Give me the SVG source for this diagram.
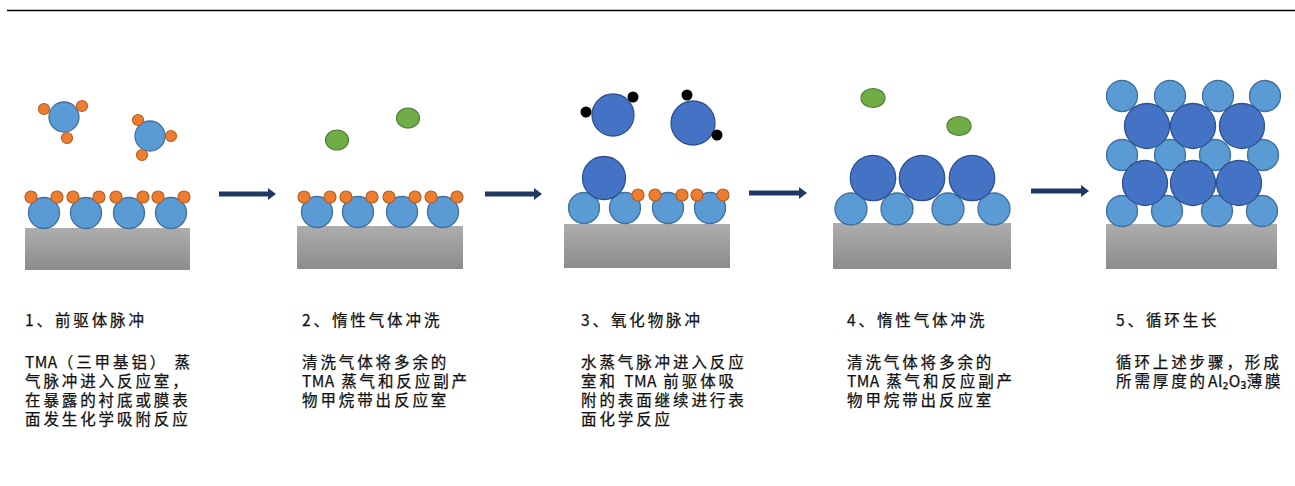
<svg xmlns="http://www.w3.org/2000/svg" width="1295" height="486" viewBox="0 0 1295 486">
  <style>
    .lb { fill: #5B9BD5; stroke: #41719C; stroke-width: 1.3; }
    .db { fill: #4472C4; stroke: #2F528F; stroke-width: 1.3; }
    .or { fill: #ED7D31; stroke: #B95F22; stroke-width: 1.2; }
    .gr { fill: #70AD47; stroke: #507E32; stroke-width: 1.2; }
    .bk { fill: #000000; }
    .sub { fill: url(#subGrad); }
    .arrow { fill: #1F3864; }
    .t { font-family: "Noto Sans CJK SC", "Noto Sans", sans-serif; font-size: 15.5px; letter-spacing: 2.9px; fill: #111111; stroke: #111111; stroke-width: 0.25; }
    .lat { letter-spacing: 0.5px; }
  </style>
  <defs>
    <linearGradient id="subGrad" x1="0" y1="0" x2="0" y2="1">
      <stop offset="0" stop-color="#ADADAD"/>
      <stop offset="1" stop-color="#8C8C8C"/>
    </linearGradient>
  </defs>

  <rect width="1295" height="486" fill="#FFFFFF"/>
  <!-- header rule -->
  <line x1="7" y1="10.5" x2="1295" y2="10.5" stroke="#000000" stroke-width="1.3"/>

  <!-- step 1: precursor pulse -->
  <g id="step1">
    <rect class="sub" x="25" y="228" width="165" height="42"/>
    <circle class="lb" cx="44" cy="213" r="15.5"/>
    <circle class="lb" cx="86" cy="213" r="15.5"/>
    <circle class="lb" cx="129" cy="213" r="15.5"/>
    <circle class="lb" cx="171" cy="213" r="15.5"/>
    <circle class="or" cx="31" cy="197" r="6"/>
    <circle class="or" cx="57" cy="197" r="6"/>
    <circle class="or" cx="73" cy="197" r="6"/>
    <circle class="or" cx="99" cy="197" r="6"/>
    <circle class="or" cx="116" cy="197" r="6"/>
    <circle class="or" cx="143" cy="197" r="6"/>
    <circle class="or" cx="158" cy="197" r="6"/>
    <circle class="or" cx="184" cy="197" r="6"/>
    <!-- free TMA molecules -->
    <circle class="lb" cx="64" cy="117" r="15"/>
    <circle class="or" cx="44" cy="109" r="5.5"/>
    <circle class="or" cx="82" cy="106" r="5.5"/>
    <circle class="or" cx="67" cy="138" r="5.5"/>
    <circle class="lb" cx="150" cy="136" r="15"/>
    <circle class="or" cx="138" cy="120" r="5.5"/>
    <circle class="or" cx="171" cy="136" r="5.5"/>
    <circle class="or" cx="142" cy="155" r="5.5"/>
    <text class="t" x="25" y="325.5">1、前驱体脉冲</text>
    <text class="t" x="25" y="368"><tspan class="lat">TMA</tspan>（三甲基铝） 蒸<tspan x="25" dy="19">气脉冲进入反应室，</tspan><tspan x="25" dy="19">在暴露的衬底或膜表</tspan><tspan x="25" dy="19">面发生化学吸附反应</tspan></text>
  </g>

  <!-- step 2: inert gas purge -->
  <g id="step2">
    <rect class="sub" x="297" y="226" width="166" height="43"/>
    <circle class="lb" cx="317" cy="212" r="15.5"/>
    <circle class="lb" cx="358" cy="212" r="15.5"/>
    <circle class="lb" cx="402" cy="212" r="15.5"/>
    <circle class="lb" cx="443" cy="212" r="15.5"/>
    <circle class="or" cx="304" cy="197" r="6"/>
    <circle class="or" cx="330" cy="197" r="6"/>
    <circle class="or" cx="346" cy="197" r="6"/>
    <circle class="or" cx="372" cy="197" r="6"/>
    <circle class="or" cx="389" cy="197" r="6"/>
    <circle class="or" cx="415" cy="197" r="6"/>
    <circle class="or" cx="431" cy="197" r="6"/>
    <circle class="or" cx="457" cy="197" r="6"/>
    <ellipse class="gr" cx="337" cy="140" rx="11.5" ry="10"/>
    <ellipse class="gr" cx="408" cy="118" rx="11.5" ry="10"/>
    <text class="t" x="302" y="325.5">2、惰性气体冲洗</text>
    <text class="t" x="302" y="368">清洗气体将多余的<tspan x="302" dy="19"><tspan class="lat">TMA</tspan> 蒸气和反应副产</tspan><tspan x="302" dy="19">物甲烷带出反应室</tspan></text>
  </g>

  <!-- step 3: oxidant pulse -->
  <g id="step3">
    <rect class="sub" x="564" y="224" width="166" height="44"/>
    <circle class="lb" cx="584" cy="208" r="15.5"/>
    <circle class="lb" cx="625" cy="208" r="15.5"/>
    <circle class="lb" cx="668" cy="208" r="15.5"/>
    <circle class="lb" cx="710" cy="208" r="15.5"/>
    <circle class="db" cx="604" cy="178" r="21.5"/>
    <circle class="or" cx="638" cy="195" r="6"/>
    <circle class="or" cx="655" cy="195" r="6"/>
    <circle class="or" cx="682" cy="195" r="6"/>
    <circle class="or" cx="697" cy="195" r="6"/>
    <circle class="or" cx="723" cy="195" r="6"/>
    <!-- free water molecules -->
    <circle class="db" cx="613" cy="115" r="21"/>
    <circle class="bk" cx="586" cy="112" r="5.5"/>
    <circle class="bk" cx="633" cy="97" r="5.5"/>
    <circle class="db" cx="693" cy="123" r="22"/>
    <circle class="bk" cx="687" cy="95" r="5.5"/>
    <circle class="bk" cx="717" cy="135" r="5.5"/>
    <text class="t" x="581" y="325.5">3、氧化物脉冲</text>
    <text class="t" x="581" y="368">水蒸气脉冲进入反应<tspan x="581" dy="19">室和 <tspan class="lat">TMA</tspan> 前驱体吸</tspan><tspan x="581" dy="19">附的表面继续进行表</tspan><tspan x="581" dy="19">面化学反应</tspan></text>
  </g>

  <!-- step 4: inert gas purge -->
  <g id="step4">
    <rect class="sub" x="833" y="223" width="178" height="46"/>
    <circle class="lb" cx="851" cy="209" r="16"/>
    <circle class="lb" cx="897" cy="209" r="16"/>
    <circle class="lb" cx="948" cy="209" r="16"/>
    <circle class="lb" cx="994" cy="209" r="16"/>
    <circle class="db" cx="873" cy="178" r="22.7"/>
    <circle class="db" cx="922" cy="178" r="22.7"/>
    <circle class="db" cx="972" cy="178" r="22.7"/>
    <ellipse class="gr" cx="873" cy="98" rx="12" ry="9.5"/>
    <ellipse class="gr" cx="959" cy="126" rx="12" ry="9.5"/>
    <text class="t" x="847" y="325.5">4、惰性气体冲洗</text>
    <text class="t" x="847" y="368">清洗气体将多余的<tspan x="847" dy="19"><tspan class="lat">TMA</tspan> 蒸气和反应副产</tspan><tspan x="847" dy="19">物甲烷带出反应室</tspan></text>
  </g>

  <!-- step 5: cyclic growth -->
  <g id="step5">
    <rect class="sub" x="1106" y="224" width="171" height="45"/>
    <circle class="lb" cx="1122" cy="96" r="15.5"/>
    <circle class="lb" cx="1170" cy="96" r="15.5"/>
    <circle class="lb" cx="1218" cy="96" r="15.5"/>
    <circle class="lb" cx="1265" cy="96" r="15.5"/>
    <circle class="lb" cx="1122" cy="155" r="15.5"/>
    <circle class="lb" cx="1170" cy="155" r="15.5"/>
    <circle class="lb" cx="1215" cy="155" r="15.5"/>
    <circle class="lb" cx="1263" cy="155" r="15.5"/>
    <circle class="lb" cx="1122" cy="211" r="15.5"/>
    <circle class="lb" cx="1167" cy="211" r="15.5"/>
    <circle class="lb" cx="1217" cy="211" r="15.5"/>
    <circle class="lb" cx="1262" cy="211" r="15.5"/>
    <circle class="db" cx="1147" cy="126" r="22.5"/>
    <circle class="db" cx="1193" cy="126" r="22.5"/>
    <circle class="db" cx="1242" cy="126" r="22.5"/>
    <circle class="db" cx="1145" cy="183" r="22.5"/>
    <circle class="db" cx="1193" cy="183" r="22.5"/>
    <circle class="db" cx="1239" cy="183" r="22.5"/>
    <text class="t" x="1116" y="325.5">5、循环生长</text>
    <text class="t" x="1116" y="368">循环上述步骤，形成<tspan x="1116" dy="19">所需厚度的<tspan class="lat">Al₂O₃</tspan>薄膜</tspan></text>
  </g>

  <!-- process arrows -->
  <g id="connectors">
    <polygon class="arrow" points="219,191.5 268,191.5 268,188 276,194 268,200 268,196.5 219,196.5"/>
    <polygon class="arrow" points="485,191.5 534,191.5 534,188 542,194 534,200 534,196.5 485,196.5"/>
    <polygon class="arrow" points="749,190.5 799,190.5 799,187 807,193 799,199 799,195.5 749,195.5"/>
    <polygon class="arrow" points="1031,188.5 1081,188.5 1081,185 1089,191 1081,197 1081,193.5 1031,193.5"/>
  </g>
</svg>
